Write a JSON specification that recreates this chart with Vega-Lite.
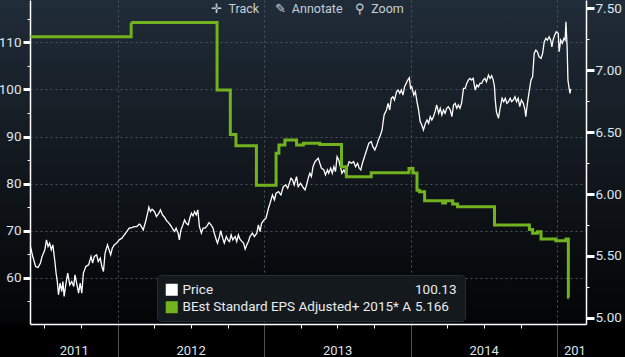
{
  "$schema": "https://vega.github.io/schema/vega-lite/v6.json",
  "width": 625,
  "height": 324,
  "autosize": {"type": "none"},
  "padding": {"left": 0, "top": 0, "right": 0, "bottom": 33},
  "background": "#000000",
  "view": {
    "fill": {"gradient": "linear", "x1": 0, "y1": 0, "x2": 0, "y2": 1,
      "stops": [{"offset": 0, "color": "#202c38"}, {"offset": 0.5, "color": "#12181e"}, {"offset": 1, "color": "#030405"}]},
    "stroke": null
  },
  "title": {"text": "✛\u00a0\u00a0Track\u00a0\u00a0\u00a0\u00a0\u00a0✎\u00a0\u00a0Annotate\u00a0\u00a0\u00a0\u00a0⚲\u00a0\u00a0Zoom", "orient": "top", "anchor": "middle", "frame": "group", "offset": -15, "dx": -5, "font": "Roboto", "fontSize": 12.5, "fontWeight": "normal", "color": "#c5cfd8"},
  "datasets": {
    "price": [
      {"date": "2011-05-29", "price": 66.65}, {"date": "2011-06-04", "price": 64.52}, {"date": "2011-06-11", "price": 62.41}, {"date": "2011-06-17", "price": 62.19},
      {"date": "2011-06-23", "price": 63.13}, {"date": "2011-06-27", "price": 64.52}, {"date": "2011-07-04", "price": 65.95}, {"date": "2011-07-08", "price": 68.07},
      {"date": "2011-07-12", "price": 66.65}, {"date": "2011-07-16", "price": 67.37}, {"date": "2011-07-20", "price": 65.95}, {"date": "2011-07-24", "price": 67.01},
      {"date": "2011-07-29", "price": 63.47}, {"date": "2011-08-01", "price": 61.0}, {"date": "2011-08-04", "price": 59.22}, {"date": "2011-08-07", "price": 56.4},
      {"date": "2011-08-11", "price": 58.88}, {"date": "2011-08-15", "price": 57.1}, {"date": "2011-08-18", "price": 59.22}, {"date": "2011-08-21", "price": 56.04},
      {"date": "2011-08-25", "price": 58.52}, {"date": "2011-08-30", "price": 61.0}, {"date": "2011-09-04", "price": 58.52}, {"date": "2011-09-09", "price": 59.22},
      {"date": "2011-09-14", "price": 58.16}, {"date": "2011-09-17", "price": 60.64}, {"date": "2011-09-22", "price": 58.52}, {"date": "2011-09-26", "price": 56.76},
      {"date": "2011-09-30", "price": 58.88}, {"date": "2011-10-04", "price": 56.76}, {"date": "2011-10-08", "price": 61.0}, {"date": "2011-10-14", "price": 62.41},
      {"date": "2011-10-21", "price": 62.76}, {"date": "2011-10-27", "price": 64.52}, {"date": "2011-10-31", "price": 63.13}, {"date": "2011-11-04", "price": 64.52},
      {"date": "2011-11-10", "price": 64.89}, {"date": "2011-11-14", "price": 63.47}, {"date": "2011-11-19", "price": 64.19}, {"date": "2011-11-23", "price": 62.41},
      {"date": "2011-11-27", "price": 61.35}, {"date": "2011-12-01", "price": 65.25}, {"date": "2011-12-07", "price": 67.01}, {"date": "2011-12-11", "price": 65.95},
      {"date": "2011-12-15", "price": 64.89}, {"date": "2011-12-19", "price": 66.31}, {"date": "2011-12-24", "price": 67.01}, {"date": "2011-12-30", "price": 67.37},
      {"date": "2012-01-05", "price": 68.07}, {"date": "2012-01-12", "price": 68.43}, {"date": "2012-01-18", "price": 69.13}, {"date": "2012-01-24", "price": 69.83},
      {"date": "2012-01-30", "price": 70.55}, {"date": "2012-02-06", "price": 70.68}, {"date": "2012-02-12", "price": 70.89}, {"date": "2012-02-18", "price": 70.89},
      {"date": "2012-02-24", "price": 71.4}, {"date": "2012-02-27", "price": 71.25}, {"date": "2012-03-05", "price": 70.19}, {"date": "2012-03-11", "price": 71.95},
      {"date": "2012-03-15", "price": 73.37}, {"date": "2012-03-19", "price": 75.0}, {"date": "2012-03-23", "price": 74.07}, {"date": "2012-03-27", "price": 74.58},
      {"date": "2012-04-02", "price": 74.07}, {"date": "2012-04-07", "price": 73.01}, {"date": "2012-04-13", "price": 73.73}, {"date": "2012-04-17", "price": 74.43},
      {"date": "2012-04-22", "price": 73.37}, {"date": "2012-04-27", "price": 72.88}, {"date": "2012-05-02", "price": 72.16}, {"date": "2012-05-07", "price": 71.74},
      {"date": "2012-05-13", "price": 71.04}, {"date": "2012-05-18", "price": 70.34}, {"date": "2012-05-22", "price": 69.83}, {"date": "2012-05-26", "price": 70.55},
      {"date": "2012-05-31", "price": 69.49}, {"date": "2012-06-03", "price": 68.07}, {"date": "2012-06-07", "price": 70.19}, {"date": "2012-06-12", "price": 71.25},
      {"date": "2012-06-16", "price": 72.31}, {"date": "2012-06-20", "price": 71.61}, {"date": "2012-06-25", "price": 71.25}, {"date": "2012-06-29", "price": 72.67},
      {"date": "2012-07-03", "price": 73.73}, {"date": "2012-07-07", "price": 73.16}, {"date": "2012-07-11", "price": 74.07}, {"date": "2012-07-15", "price": 73.37},
      {"date": "2012-07-19", "price": 74.43}, {"date": "2012-07-23", "price": 70.89}, {"date": "2012-07-28", "price": 69.49}, {"date": "2012-08-01", "price": 70.55},
      {"date": "2012-08-06", "price": 70.55}, {"date": "2012-08-11", "price": 71.04}, {"date": "2012-08-16", "price": 71.74}, {"date": "2012-08-21", "price": 71.25},
      {"date": "2012-08-26", "price": 70.55}, {"date": "2012-08-29", "price": 69.49}, {"date": "2012-09-03", "price": 68.07}, {"date": "2012-09-06", "price": 67.37},
      {"date": "2012-09-11", "price": 68.77}, {"date": "2012-09-14", "price": 70.04}, {"date": "2012-09-19", "price": 68.43}, {"date": "2012-09-23", "price": 67.37},
      {"date": "2012-09-28", "price": 68.77}, {"date": "2012-10-02", "price": 68.07}, {"date": "2012-10-06", "price": 67.71}, {"date": "2012-10-10", "price": 69.13},
      {"date": "2012-10-14", "price": 68.07}, {"date": "2012-10-20", "price": 68.77}, {"date": "2012-10-24", "price": 67.71}, {"date": "2012-10-28", "price": 69.13},
      {"date": "2012-11-01", "price": 68.22}, {"date": "2012-11-06", "price": 67.71}, {"date": "2012-11-10", "price": 67.37}, {"date": "2012-11-14", "price": 66.1},
      {"date": "2012-11-18", "price": 67.01}, {"date": "2012-11-22", "price": 67.71}, {"date": "2012-11-26", "price": 68.77}, {"date": "2012-12-02", "price": 69.49},
      {"date": "2012-12-07", "price": 68.77}, {"date": "2012-12-13", "price": 69.49}, {"date": "2012-12-17", "price": 71.25}, {"date": "2012-12-21", "price": 69.83},
      {"date": "2012-12-25", "price": 71.61}, {"date": "2012-12-31", "price": 72.31}, {"date": "2013-01-05", "price": 72.67}, {"date": "2013-01-11", "price": 74.79},
      {"date": "2013-01-15", "price": 75.85}, {"date": "2013-01-21", "price": 77.61}, {"date": "2013-01-26", "price": 76.55}, {"date": "2013-01-30", "price": 77.97},
      {"date": "2013-02-05", "price": 78.31}, {"date": "2013-02-11", "price": 77.61}, {"date": "2013-02-17", "price": 79.37}, {"date": "2013-02-23", "price": 79.73},
      {"date": "2013-02-28", "price": 79.03}, {"date": "2013-03-04", "price": 80.09}, {"date": "2013-03-08", "price": 81.15}, {"date": "2013-03-12", "price": 80.79},
      {"date": "2013-03-16", "price": 79.73}, {"date": "2013-03-22", "price": 81.49}, {"date": "2013-03-26", "price": 79.37}, {"date": "2013-04-01", "price": 80.09},
      {"date": "2013-04-06", "price": 79.37}, {"date": "2013-04-12", "price": 78.67}, {"date": "2013-04-16", "price": 79.73}, {"date": "2013-04-20", "price": 81.15},
      {"date": "2013-04-24", "price": 82.21}, {"date": "2013-04-28", "price": 81.49}, {"date": "2013-05-02", "price": 83.61}, {"date": "2013-05-07", "price": 84.67},
      {"date": "2013-05-11", "price": 85.04}, {"date": "2013-05-15", "price": 85.4}, {"date": "2013-05-19", "price": 84.34}, {"date": "2013-05-23", "price": 83.28},
      {"date": "2013-05-29", "price": 82.92}, {"date": "2013-06-02", "price": 81.86}, {"date": "2013-06-07", "price": 82.92}, {"date": "2013-06-10", "price": 82.21},
      {"date": "2013-06-15", "price": 83.28}, {"date": "2013-06-19", "price": 82.21}, {"date": "2013-06-23", "price": 83.61}, {"date": "2013-06-27", "price": 82.55},
      {"date": "2013-07-01", "price": 85.74}, {"date": "2013-07-05", "price": 85.04}, {"date": "2013-07-09", "price": 83.61}, {"date": "2013-07-13", "price": 82.21},
      {"date": "2013-07-18", "price": 82.92}, {"date": "2013-07-23", "price": 81.86}, {"date": "2013-07-27", "price": 83.61}, {"date": "2013-07-31", "price": 84.67},
      {"date": "2013-08-06", "price": 84.33}, {"date": "2013-08-11", "price": 84.67}, {"date": "2013-08-16", "price": 83.61}, {"date": "2013-08-21", "price": 84.33},
      {"date": "2013-08-25", "price": 83.28}, {"date": "2013-08-29", "price": 82.92}, {"date": "2013-09-02", "price": 84.33}, {"date": "2013-09-06", "price": 85.4},
      {"date": "2013-09-10", "price": 86.46}, {"date": "2013-09-14", "price": 87.52}, {"date": "2013-09-18", "price": 88.58}, {"date": "2013-09-24", "price": 88.92},
      {"date": "2013-09-28", "price": 87.86}, {"date": "2013-10-03", "price": 87.16}, {"date": "2013-10-08", "price": 88.22}, {"date": "2013-10-12", "price": 89.28},
      {"date": "2013-10-17", "price": 90.34}, {"date": "2013-10-21", "price": 91.4}, {"date": "2013-10-26", "price": 94.58}, {"date": "2013-11-01", "price": 95.64},
      {"date": "2013-11-05", "price": 97.06}, {"date": "2013-11-09", "price": 95.64}, {"date": "2013-11-13", "price": 98.12}, {"date": "2013-11-17", "price": 98.46},
      {"date": "2013-11-21", "price": 97.76}, {"date": "2013-11-26", "price": 99.52}, {"date": "2013-11-30", "price": 99.88}, {"date": "2013-12-04", "price": 99.18},
      {"date": "2013-12-08", "price": 99.88}, {"date": "2013-12-12", "price": 98.82}, {"date": "2013-12-16", "price": 100.58}, {"date": "2013-12-20", "price": 101.3},
      {"date": "2013-12-24", "price": 102.0}, {"date": "2013-12-28", "price": 102.49}, {"date": "2013-12-31", "price": 100.23}, {"date": "2014-01-03", "price": 100.58},
      {"date": "2014-01-08", "price": 98.82}, {"date": "2014-01-12", "price": 99.52}, {"date": "2014-01-16", "price": 97.4}, {"date": "2014-01-20", "price": 95.64},
      {"date": "2014-01-24", "price": 93.16}, {"date": "2014-01-28", "price": 92.46}, {"date": "2014-02-01", "price": 91.4}, {"date": "2014-02-06", "price": 92.82},
      {"date": "2014-02-10", "price": 93.52}, {"date": "2014-02-14", "price": 92.82}, {"date": "2014-02-18", "price": 94.22}, {"date": "2014-02-22", "price": 93.52},
      {"date": "2014-02-26", "price": 94.22}, {"date": "2014-03-02", "price": 95.28}, {"date": "2014-03-06", "price": 96.7}, {"date": "2014-03-11", "price": 94.94},
      {"date": "2014-03-15", "price": 96.0}, {"date": "2014-03-19", "price": 94.58}, {"date": "2014-03-23", "price": 95.64}, {"date": "2014-03-27", "price": 94.94},
      {"date": "2014-03-31", "price": 96.0}, {"date": "2014-04-04", "price": 96.34}, {"date": "2014-04-09", "price": 95.64}, {"date": "2014-04-13", "price": 94.22},
      {"date": "2014-04-17", "price": 96.7}, {"date": "2014-04-21", "price": 97.06}, {"date": "2014-04-25", "price": 96.0}, {"date": "2014-04-29", "price": 96.7},
      {"date": "2014-05-03", "price": 96.0}, {"date": "2014-05-07", "price": 97.06}, {"date": "2014-05-12", "price": 100.24}, {"date": "2014-05-16", "price": 100.24},
      {"date": "2014-05-20", "price": 101.3}, {"date": "2014-05-24", "price": 102.0}, {"date": "2014-05-28", "price": 102.36}, {"date": "2014-06-01", "price": 102.0},
      {"date": "2014-06-05", "price": 102.36}, {"date": "2014-06-10", "price": 99.88}, {"date": "2014-06-14", "price": 100.94}, {"date": "2014-06-18", "price": 100.58},
      {"date": "2014-06-22", "price": 101.3}, {"date": "2014-06-26", "price": 101.3}, {"date": "2014-06-30", "price": 102.0}, {"date": "2014-07-04", "price": 102.36},
      {"date": "2014-07-08", "price": 101.64}, {"date": "2014-07-13", "price": 103.06}, {"date": "2014-07-17", "price": 102.36}, {"date": "2014-07-21", "price": 102.92},
      {"date": "2014-07-25", "price": 102.0}, {"date": "2014-07-28", "price": 100.58}, {"date": "2014-07-30", "price": 97.76}, {"date": "2014-08-02", "price": 95.2},
      {"date": "2014-08-07", "price": 93.9}, {"date": "2014-08-11", "price": 96.0}, {"date": "2014-08-16", "price": 98.12}, {"date": "2014-08-20", "price": 97.4},
      {"date": "2014-08-24", "price": 98.12}, {"date": "2014-08-28", "price": 97.06}, {"date": "2014-09-01", "price": 97.4}, {"date": "2014-09-05", "price": 98.12},
      {"date": "2014-09-09", "price": 97.4}, {"date": "2014-09-13", "price": 97.76}, {"date": "2014-09-17", "price": 98.46}, {"date": "2014-09-21", "price": 97.4},
      {"date": "2014-09-25", "price": 98.12}, {"date": "2014-09-29", "price": 96.34}, {"date": "2014-10-03", "price": 97.76}, {"date": "2014-10-08", "price": 97.06},
      {"date": "2014-10-12", "price": 95.64}, {"date": "2014-10-14", "price": 94.22}, {"date": "2014-10-18", "price": 97.06}, {"date": "2014-10-23", "price": 99.88},
      {"date": "2014-10-27", "price": 102.0}, {"date": "2014-10-31", "price": 102.7}, {"date": "2014-11-04", "price": 107.67}, {"date": "2014-11-08", "price": 108.37},
      {"date": "2014-11-12", "price": 108.01}, {"date": "2014-11-16", "price": 106.95}, {"date": "2014-11-21", "price": 106.61}, {"date": "2014-11-25", "price": 107.67},
      {"date": "2014-11-29", "price": 110.13}, {"date": "2014-12-03", "price": 110.85}, {"date": "2014-12-07", "price": 110.49}, {"date": "2014-12-11", "price": 111.19},
      {"date": "2014-12-15", "price": 110.49}, {"date": "2014-12-18", "price": 109.07}, {"date": "2014-12-21", "price": 110.49}, {"date": "2014-12-25", "price": 111.55},
      {"date": "2014-12-29", "price": 112.25}, {"date": "2015-01-03", "price": 111.91}, {"date": "2015-01-05", "price": 108.01}, {"date": "2015-01-09", "price": 110.49},
      {"date": "2015-01-13", "price": 109.79}, {"date": "2015-01-17", "price": 110.85}, {"date": "2015-01-20", "price": 110.49}, {"date": "2015-01-22", "price": 114.37},
      {"date": "2015-01-25", "price": 109.07}, {"date": "2015-01-27", "price": 102.0}, {"date": "2015-01-30", "price": 100.24}, {"date": "2015-02-01", "price": 99.18},
      {"date": "2015-02-03", "price": 100.13}
    ],
    "eps": [
      {"date": "2011-05-29", "eps": 7.27}, {"date": "2012-02-04", "eps": 7.385}, {"date": "2012-09-05", "eps": 6.84}, {"date": "2012-10-08", "eps": 6.48},
      {"date": "2012-10-22", "eps": 6.39}, {"date": "2012-12-12", "eps": 6.07}, {"date": "2013-01-30", "eps": 6.33}, {"date": "2013-02-06", "eps": 6.395},
      {"date": "2013-02-21", "eps": 6.436}, {"date": "2013-03-22", "eps": 6.395}, {"date": "2013-04-08", "eps": 6.41}, {"date": "2013-05-19", "eps": 6.4},
      {"date": "2013-07-12", "eps": 6.22}, {"date": "2013-07-24", "eps": 6.14}, {"date": "2013-09-24", "eps": 6.172}, {"date": "2013-12-27", "eps": 6.205},
      {"date": "2014-01-06", "eps": 6.17}, {"date": "2014-01-16", "eps": 6.03}, {"date": "2014-01-22", "eps": 6.018}, {"date": "2014-02-04", "eps": 5.945},
      {"date": "2014-03-21", "eps": 5.927}, {"date": "2014-03-28", "eps": 5.945}, {"date": "2014-04-15", "eps": 5.92}, {"date": "2014-04-27", "eps": 5.897},
      {"date": "2014-07-28", "eps": 5.749}, {"date": "2014-10-23", "eps": 5.714}, {"date": "2014-10-31", "eps": 5.682}, {"date": "2014-11-12", "eps": 5.695},
      {"date": "2014-11-21", "eps": 5.636}, {"date": "2014-12-28", "eps": 5.622}, {"date": "2015-01-22", "eps": 5.636}, {"date": "2015-01-28", "eps": 5.166},
      {"date": "2015-01-30", "eps": 5.166}
    ]
  },
  "encoding": {
    "x": {
      "field": "date", "type": "temporal",
      "scale": {"domain": [{"year": 2011, "month": 5, "date": 28}, {"year": 2015, "month": 3, "date": 13}], "range": [30, 586]},
      "axis": {
        "title": null,
        "values": [
          {"year": 2011, "month": 7, "date": 1}, {"year": 2011, "month": 9, "date": 14}, {"year": 2011, "month": 10, "date": 1},
          {"year": 2012, "month": 1, "date": 1}, {"year": 2012, "month": 4, "date": 1}, {"year": 2012, "month": 7, "date": 1}, {"year": 2012, "month": 10, "date": 1},
          {"year": 2013, "month": 1, "date": 1}, {"year": 2013, "month": 4, "date": 1}, {"year": 2013, "month": 7, "date": 1}, {"year": 2013, "month": 10, "date": 1},
          {"year": 2014, "month": 1, "date": 1}, {"year": 2014, "month": 4, "date": 1}, {"year": 2014, "month": 7, "date": 1}, {"year": 2014, "month": 10, "date": 1},
          {"year": 2015, "month": 1, "date": 1}, {"year": 2015, "month": 2, "date": 12}
        ],
        "labelExpr": "date(datum.value) == 14 ? '2011' : (date(datum.value) == 12 ? '201' : ((month(datum.value) == 6 && year(datum.value) > 2011) ? timeFormat(datum.value, '%Y') : ''))",
        "labelOverlap": false,
        "labelFlush": false,
        "labelFont": "Roboto",
        "labelFontSize": 13,
        "labelColor": "#dde3e8",
        "labelBaseline": "alphabetic",
        "labelPadding": -3,
        "grid": true,
        "gridColor": "#4a545e",
        "gridDash": [2, 3],
        "gridOpacity": {"condition": {"test": "month(datum.value) == 0 && date(datum.value) == 1", "value": 1}, "value": 0},
        "tickSize": 33,
        "tickDash": {"condition": {"test": "month(datum.value) == 0 && date(datum.value) == 1", "value": [1, 0]}, "value": [4, 80]},
        "tickColor": {"condition": {"test": "month(datum.value) == 0 && date(datum.value) == 1", "value": "#6d6d6d"}, "value": "#ffffff"},
        "tickOpacity": {"condition": {"test": "date(datum.value) != 1", "value": 0}, "value": 1},
        "domainColor": "#ffffff",
        "domainWidth": 1.5
      }
    }
  },
  "layer": [
    {
      "data": {"name": "price"},
      "mark": {"type": "line", "strokeWidth": 1.3},
      "encoding": {
        "y": {
          "field": "price", "type": "quantitative",
          "scale": {"domain": [50.2, 119], "nice": false, "zero": false},
          "axis": {
            "title": null, "orient": "left", "offset": -30,
            "values": [55, 60, 65, 70, 75, 80, 85, 90, 95, 100, 105, 110, 115],
            "labelExpr": "datum.value % 10 == 0 ? datum.label : ''",
            "labelOverlap": false, "labelFlush": false,
            "labelFont": "Roboto", "labelFontSize": 13.5, "labelColor": "#dde6ee", "labelPadding": 2,
            "grid": true, "gridColor": "#4a545e", "gridDash": [2, 3],
            "gridOpacity": {"condition": {"test": "datum.value % 10 == 0", "value": 1}, "value": 0},
            "tickSize": 7,
            "tickDash": {"condition": {"test": "datum.value % 10 == 0", "value": [1, 0]}, "value": [3, 20]},
            "tickWidth": {"condition": {"test": "datum.value % 10 == 0", "value": 3}, "value": 1},
            "tickColor": "#ffffff", "domainColor": "#ffffff", "domainWidth": 1.5
          }
        },
        "color": {
          "datum": "Price", "type": "nominal",
          "scale": {"domain": ["Price", "BEst Standard EPS Adjusted+ 2015* A"], "range": ["#ffffff", "#72b21f"]},
          "legend": {
            "orient": "none", "legendX": 157, "legendY": 275, "title": null, "padding": 8,
            "symbolType": "square", "symbolSize": 144, "symbolStrokeWidth": 0,
            "labelFont": "Roboto", "labelFontSize": 13.5, "labelColor": "#e8ecef", "labelOffset": 4, "labelLimit": 400,
            "rowPadding": 2.5, "zindex": 2,
            "encode": {"symbols": {"update": {"fill": {"scale": "color", "field": "value"}, "opacity": {"value": 1}}}}
          }
        },
        "strokeDash": {
          "datum": "100.13", "type": "nominal",
          "scale": {"domain": ["100.13", "5.166"], "range": [[1, 0], [1, 0]]},
          "legend": {
            "orient": "none", "legendX": 157, "legendY": 275, "title": null, "padding": 8,
            "symbolType": "square", "symbolSize": 144, "symbolOpacity": 0,
            "labelFont": "Roboto", "labelFontSize": 13.5, "labelColor": "#e8ecef", "labelOffset": 236,
            "rowPadding": 2.5, "fillColor": "#14191e", "strokeColor": "#262c33", "cornerRadius": 4, "zindex": 1
          }
        }
      }
    },
    {
      "data": {"name": "eps"},
      "mark": {"type": "line", "strokeWidth": 3, "interpolate": "step-after"},
      "encoding": {
        "y": {
          "field": "eps", "type": "quantitative",
          "scale": {"domain": [4.95, 7.567], "nice": false, "zero": false},
          "axis": {
            "title": null, "orient": "right", "offset": -39,
            "values": [5, 5.25, 5.5, 5.75, 6, 6.25, 6.5, 6.75, 7, 7.25, 7.5],
            "labelExpr": "(datum.value * 4) % 2 == 0 ? format(datum.value, '.2f') : ''",
            "labelOverlap": false, "labelFlush": false,
            "labelFont": "Roboto", "labelFontSize": 13.5, "labelColor": "#dde6ee", "labelPadding": 1,
            "grid": false,
            "tickSize": 8,
            "tickDash": {"condition": {"test": "(datum.value * 4) % 2 == 0", "value": [1, 0]}, "value": [3, 20]},
            "tickWidth": {"condition": {"test": "(datum.value * 4) % 2 == 0", "value": 3}, "value": 1},
            "tickColor": "#ffffff", "domainColor": "#ffffff", "domainWidth": 1.5
          }
        },
        "color": {"datum": "BEst Standard EPS Adjusted+ 2015* A", "type": "nominal"},
        "strokeDash": {"datum": "5.166", "type": "nominal"}
      }
    }
  ],
  "resolve": {"scale": {"y": "independent"}}
}
